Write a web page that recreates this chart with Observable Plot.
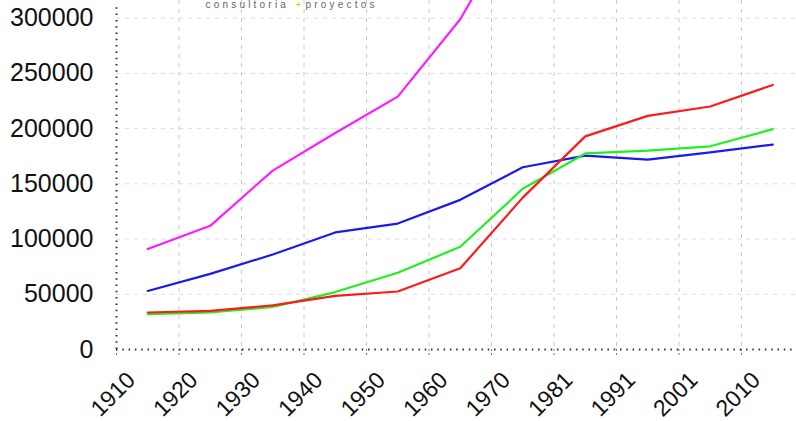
<!DOCTYPE html>
<html>
<head>
<meta charset="utf-8">
<script src="https://cdn.jsdelivr.net/npm/d3@7"></script>
<script src="https://cdn.jsdelivr.net/npm/@observablehq/plot@0.6"></script>
<style>
  html, body { margin: 0; padding: 0; background: #fff; }
  #chart svg { display: block; }
</style>
</head>
<body>
<div id="chart"></div>
<script>
// Tick labels (decades) — data points sit midway between consecutive ticks
const yearLabels = ["1910","1920","1930","1940","1950","1960","1970","1981","1991","2001","2010"];
const yTicks = [0, 50000, 100000, 150000, 200000, 250000, 300000];

// Series values
const seriesA = [91000, 112000, 162000, 196000, 229000, 299000, 397000, 440000, 470000, 490000, 510000]; // magenta
const seriesB = [53000, 68500, 86000, 106000, 114000, 135500, 165000, 175500, 172000, 178500, 185500]; // blue
const seriesC = [32000, 33500, 38500, 52000, 69500, 93000, 145500, 177500, 180000, 184000, 199500];     // green
const seriesD = [33500, 35000, 40000, 48500, 52500, 73500, 137500, 193000, 211500, 220000, 239500];     // red

const seriesNames = ["A", "B", "C", "D"];
const seriesValues = [seriesA, seriesB, seriesC, seriesD];
const seriesColors = ["#ff1aff", "#1a1aee", "#22ee22", "#ff1a1a"];

const rows = [];
seriesNames.forEach((name, s) => {
  seriesValues[s].forEach((v, i) => rows.push({series: name, x: i + 0.5, y: v}));
});
const tickIdx = yearLabels.map((_, i) => i);

const font = "'Liberation Sans', Arial, sans-serif";

const chart = Plot.plot({
  width: 796,
  height: 421,
  marginLeft: 116,
  marginRight: 0,
  marginTop: 0,
  marginBottom: 72,
  style: {fontFamily: font, background: "#fff"},
  x: {domain: [0, 10.88], label: null},
  y: {domain: [0, 316000], label: null},
  color: {domain: seriesNames, range: seriesColors},
  marks: [
    // grid
    Plot.ruleX(tickIdx.slice(1), {x: d => d, stroke: "#c8c8c8", strokeDasharray: "4,5", strokeWidth: 1}),
    Plot.ruleY(yTicks.slice(1), {y: d => d, stroke: "#dcdcdc", strokeDasharray: "4,5", strokeWidth: 1}),
    // x tick marks
    Plot.axisX({ticks: tickIdx, tickSize: 7, tickFormat: () => "", stroke: "#777", strokeDasharray: "2,2"}),
    // x labels
    Plot.text(tickIdx, {x: d => d, frameAnchor: "bottom", text: d => yearLabels[d], rotate: -45,
      textAnchor: "end", lineAnchor: "bottom", dx: 20, dy: 32, fontSize: 23, fill: "#111", fontFamily: font}),
    // y labels
    Plot.axisY({ticks: yTicks, tickSize: 0, tickPadding: 23, tickFormat: d => String(d), fontSize: 25, fill: "#111"}),
    // axis lines (dotted)
    Plot.ruleY([0], {stroke: "#333", strokeDasharray: "1.5,4.8", strokeWidth: 2}),
    Plot.ruleX([0], {y1: 0, y2: 310000, stroke: "#333", strokeDasharray: "1.5,4.8", strokeWidth: 2}),
    // series lines
    Plot.line(rows, {x: "x", y: "y", z: "series", stroke: "series", strokeWidth: 2.2, clip: true}),
    // small legend text at top
    Plot.text(["consultoria"], {frameAnchor: "top-left", dx: 89, dy: 0, textAnchor: "start", fontSize: 10,
      fill: "#666", fontFamily: font}),
    Plot.text(["+"], {frameAnchor: "top-left", dx: 179, dy: 0, textAnchor: "start", fontSize: 10,
      fill: "#cccc00", fontFamily: font}),
    Plot.text(["proyectos"], {frameAnchor: "top-left", dx: 189, dy: 0, textAnchor: "start", fontSize: 10,
      fill: "#666", fontFamily: font})
  ]
});
// letter spacing for the small legend words
d3.select(chart).selectAll("text")
  .filter(function() { const t = this.textContent; return t === "consultoria" || t === "proyectos"; })
  .attr("letter-spacing", "3.2px");
document.getElementById("chart").appendChild(chart);
</script>
</body>
</html>
